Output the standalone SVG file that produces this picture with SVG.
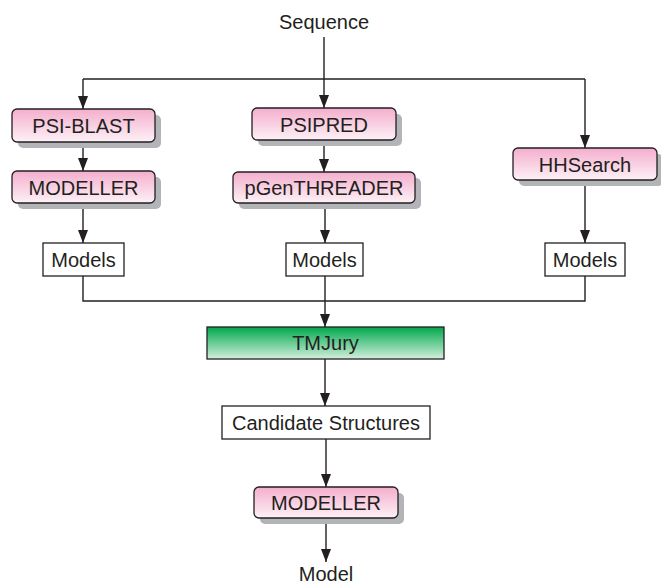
<svg xmlns="http://www.w3.org/2000/svg" width="661" height="585" viewBox="0 0 661 585">
<defs>
<linearGradient id="pink" x1="0" y1="0" x2="0" y2="1">
<stop offset="0" stop-color="#f4aecd"/>
<stop offset="1" stop-color="#fdf1f6"/>
</linearGradient>
<linearGradient id="green" x1="0" y1="0" x2="0" y2="1">
<stop offset="0" stop-color="#00a84c"/>
<stop offset="1" stop-color="#d3efdd"/>
</linearGradient>
<marker id="arr" markerUnits="userSpaceOnUse" markerWidth="13" markerHeight="10" refX="13" refY="5" orient="auto">
<path d="M0,0 L13,5 L0,10 z" fill="#231f20"/>
</marker>
<style>
text{font-family:"Liberation Sans",Arial,sans-serif;font-size:20px;fill:#231f20;text-anchor:middle}
.tool{fill:url(#pink);stroke:#231f20;stroke-width:1.3}
.shadow{fill:#b3b4b8}
.box{fill:#fff;stroke:#231f20;stroke-width:1.3}
.ln{fill:none;stroke:#231f20;stroke-width:1.4}
.ar{fill:none;stroke:#231f20;stroke-width:1.4;marker-end:url(#arr)}
</style>
</defs>

<g id="connectors">
<path class="ar" d="M324,37 V108"/>
<path class="ln" d="M83,79 H585"/>
<path class="ar" d="M83,79 V109"/>
<path class="ar" d="M585,79 V148"/>
<path class="ar" d="M83,142 V171"/>
<path class="ar" d="M324,140 V172"/>
<path class="ar" d="M83,203 V243"/>
<path class="ar" d="M325,203 V243"/>
<path class="ar" d="M585,180 V243"/>
<path class="ln" d="M83,276 V301 H585 V276"/>
<path class="ar" d="M325,276 V327"/>
<path class="ar" d="M325,359 V406"/>
<path class="ar" d="M326,439 V487"/>
<path class="ar" d="M326,518 V562"/>
</g>

<g id="sequence"><text x="324" y="29">Sequence</text></g>

<g id="psiblast">
<rect class="shadow" x="18" y="115" width="143" height="33" rx="5"/>
<rect class="tool" x="12" y="109" width="143" height="33" rx="5"/>
<text x="83.5" y="133">PSI-BLAST</text>
</g>
<g id="modeller1">
<rect class="shadow" x="18" y="177" width="143" height="32" rx="5"/>
<rect class="tool" x="12" y="171" width="143" height="32" rx="5"/>
<text x="83.5" y="194.5">MODELLER</text>
</g>
<g id="psipred">
<rect class="shadow" x="258" y="114" width="144" height="32" rx="5"/>
<rect class="tool" x="252" y="108" width="144" height="32" rx="5"/>
<text x="324" y="131.5">PSIPRED</text>
</g>
<g id="pgenthreader">
<rect class="shadow" x="239" y="178" width="182" height="31" rx="5"/>
<rect class="tool" x="233" y="172" width="182" height="31" rx="5"/>
<text x="324" y="195">pGenTHREADER</text>
</g>
<g id="hhsearch">
<rect class="shadow" x="519" y="154" width="144" height="32" rx="5"/>
<rect class="tool" x="513" y="148" width="144" height="32" rx="5"/>
<text x="585" y="171.5">HHSearch</text>
</g>

<g id="models1">
<rect class="box" x="43" y="243" width="81" height="33"/>
<text x="83.5" y="267">Models</text>
</g>
<g id="models2">
<rect class="box" x="286" y="243" width="77" height="33"/>
<text x="324.5" y="267">Models</text>
</g>
<g id="models3">
<rect class="box" x="545" y="243" width="80" height="33"/>
<text x="585" y="267">Models</text>
</g>

<g id="tmjury">
<rect x="207" y="327" width="237" height="32" fill="url(#green)" stroke="#231f20" stroke-width="1.3"/>
<text x="325.5" y="350">TMJury</text>
</g>

<g id="candidates">
<rect class="box" x="222" y="406" width="208" height="33"/>
<text x="326" y="430">Candidate Structures</text>
</g>

<g id="modeller2">
<rect class="shadow" x="260" y="493" width="144" height="31" rx="5"/>
<rect class="tool" x="254" y="487" width="144" height="31" rx="5"/>
<text x="326" y="510">MODELLER</text>
</g>

<g id="model"><text x="326" y="581">Model</text></g>
</svg>
